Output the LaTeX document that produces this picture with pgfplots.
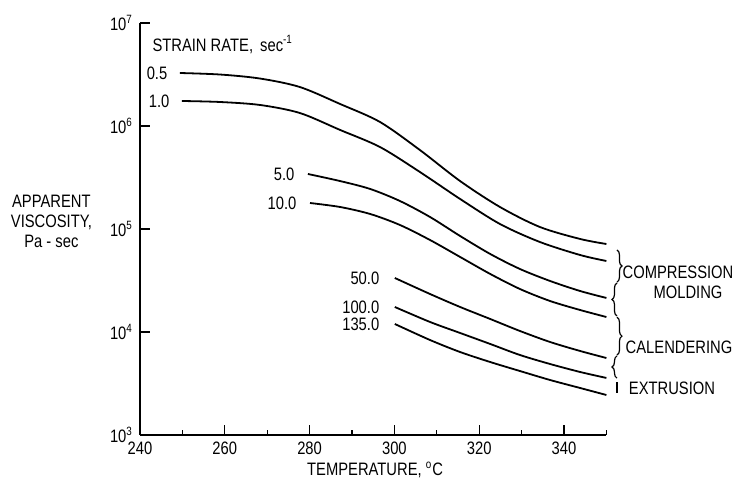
\documentclass[border=0pt]{standalone}
\usepackage{fontspec}
\setmainfont{Liberation Sans}[FakeStretch=0.82]
\usepackage{pgfplots}
\pgfplotsset{compat=1.18}
\usetikzlibrary{decorations.pathreplacing}
\pgfplotsset{curve/.style={black, solid, line width=0.9pt, smooth, no markers}}

\begin{document}
\begin{tikzpicture}[font=\fontsize{9}{10}\selectfont]
\useasboundingbox (-70pt,-25.5pt) rectangle (300.5pt,217.5pt);
\begin{axis}[
  scale only axis, width=233.2pt, height=206pt,
  xmin=240, xmax=350, ymin=1e3, ymax=1e7, ymode=log,
  axis x line=bottom, axis y line=left,
  axis line style={-, line width=0.7pt},
  xtick={240,260,...,340}, minor xtick={250,270,...,350},
  ytick={1e3,1e4,1e5,1e6,1e7},
  yticklabels={10\textsuperscript{3},10\textsuperscript{4},10\textsuperscript{5},10\textsuperscript{6},10\textsuperscript{7}},
  yminorticks=false,
  tick align=inside, major tick length=5pt, minor tick length=2.5pt,
  tick style={black, line width=0.6pt},
  /pgf/number format/assume math mode=true,
  xlabel={TEMPERATURE, \textsuperscript{o}C},
  xlabel style={at={(rel axis cs:0.504,-0.085)}, anchor=center},
  ylabel={APPARENT\\VISCOSITY,\\Pa - sec},
  ylabel style={rotate=-90, align=center, at={(rel axis cs:-0.190,0.519)}, anchor=center},
  clip=false,
]
% strain rate 0.5 sec^-1
\addplot[curve] coordinates {(249.4,3.27e6) (258.9,3.16e6) (268.3,2.89e6) (277.7,2.39e6) (287.2,1.635e6) (296.6,1.094e6) (306.0,5.85e5) (315.5,2.92e5) (324.9,1.635e5) (334.3,1.046e5) (343.8,8.0e4) (350,7.15e4)}
  node[pos=0, anchor=east, xshift=-2.5pt] {0.5};
% 1.0
\addplot[curve] coordinates {(249.9,1.749e6) (258.9,1.710e6) (268.3,1.60e6) (277.7,1.337e6) (287.2,9.15e5) (296.6,6.25e5) (306.0,3.58e5) (315.5,1.956e5) (324.9,1.118e5) (334.3,7.48e4) (343.8,5.59e4) (350,4.89e4)}
  node[pos=0, anchor=east, xshift=-2.5pt] {1.0};
% 5.0
\addplot[curve] coordinates {(279.6,3.42e5) (287.2,2.92e5) (294.3,2.445e5) (301.3,1.870e5) (308.4,1.308e5) (315.5,8.55e4) (322.6,5.72e4) (329.6,4.09e4) (336.7,3.13e4) (343.8,2.50e4) (350,2.14e4)}
  node[pos=0, anchor=east, xshift=-3pt] {5.0};
% 10.0
\addplot[curve] coordinates {(280.1,1.788e5) (287.2,1.635e5) (294.3,1.398e5) (301.3,1.094e5) (308.4,7.82e4) (315.5,5.35e4) (322.6,3.66e4) (329.6,2.615e4) (336.7,2.0e4) (343.8,1.635e4) (350,1.398e4)}
  node[pos=0, anchor=east, xshift=-3pt] {10.0};
% 50.0
\addplot[curve] coordinates {(300.1,3.345e4) (308.4,2.338e4) (315.5,1.749e4) (322.6,1.337e4) (329.6,1.023e4) (336.7,8.0e3) (343.8,6.54e3) (350,5.59e3)}
  node[pos=0, anchor=east, xshift=-4pt] {50.0};
% 100.0
\addplot[curve] coordinates {(300.1,1.749e4) (308.4,1.251e4) (315.5,9.78e3) (322.6,7.65e3) (329.6,5.98e3) (336.7,4.89e3) (343.8,4.09e3) (350,3.58e3)}
  node[pos=0, anchor=east, xshift=-4pt] {100.0};
% 135.0
\addplot[curve] coordinates {(300.1,1.196e4) (308.4,8.36e3) (315.5,6.39e3) (322.6,5.11e3) (329.6,4.18e3) (336.7,3.42e3) (343.8,2.86e3) (350,2.445e3)}
  node[pos=0, anchor=east, xshift=-4pt] {135.0};

\node[anchor=west, inner sep=0pt] at (rel axis cs:0.026,0.947) {STRAIN RATE,\, sec\textsuperscript{-1}};

% process ranges
\draw[line width=0.6pt, decorate, decoration={brace, amplitude=2.5pt}] (rel axis cs:1.0227,0.449) -- (rel axis cs:1.0227,0.371);
\draw[line width=0.6pt, decorate, decoration={brace, amplitude=2.5pt}] (rel axis cs:1.0227,0.289) -- (rel axis cs:1.0227,0.369);
\draw[line width=0.6pt, decorate, decoration={brace, amplitude=2.5pt}] (rel axis cs:1.0227,0.286) -- (rel axis cs:1.0227,0.194);
\draw[line width=0.6pt, decorate, decoration={brace, amplitude=2.5pt}] (rel axis cs:1.0227,0.138) -- (rel axis cs:1.0227,0.192);
\draw[line width=0.6pt] (rel axis cs:1.0227,0.102) -- (rel axis cs:1.0227,0.129);
\node at (rel axis cs:1.1535,0.3956) {COMPRESSION};
\node at (rel axis cs:1.175,0.347) {MOLDING};
\node at (rel axis cs:1.1557,0.2136) {CALENDERING};
\node at (rel axis cs:1.1406,0.114) {EXTRUSION};
\end{axis}
\end{tikzpicture}
\end{document}
